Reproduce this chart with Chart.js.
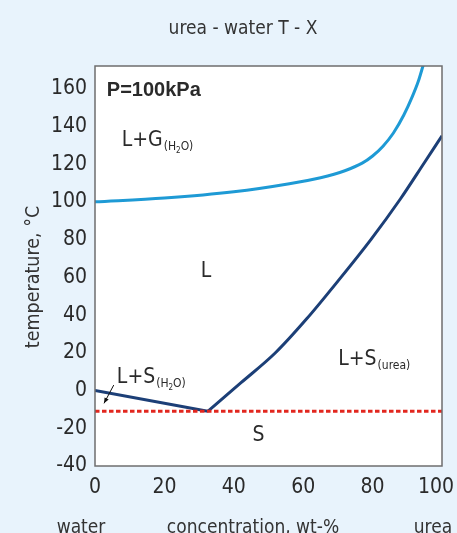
<!DOCTYPE html>
<html>
<head>
<meta charset="utf-8">
<script src="https://cdn.jsdelivr.net/npm/chart.js@4.4.1/dist/chart.umd.min.js"></script>
<style>
  html, body { margin: 0; padding: 0; background: #e8f3fc; }
  #wrap { width: 457px; height: 533px; }
</style>
</head>
<body>
<div id="wrap"><canvas id="grafico-fase"></canvas></div>
<script>
// urea - water phase diagram at 100 kPa
const boilX = [0, 20, 40, 56, 65, 72, 77, 80, 83, 86, 89, 91.5, 93.2, 94.6];
const boilT = [100, 102, 105.3, 109.6, 112.8, 116.5, 120.5, 124.3, 129.5, 136.5, 146, 156, 164, 172.5];
const iceX = [0, 32.5];
const iceT = [0, -11];
const ureaX = [32.5, 42, 52, 61, 70, 79.5, 88, 95, 100];
const ureaT = [-11, 4, 20, 38, 58, 80, 101.5, 121, 135];
const eutecticX = [0, 100];
const eutecticT = [-11, -11];
const xTicks = [0, 20, 40, 60, 80, 100];
const yTicks = [-40, -20, 0, 20, 40, 60, 80, 100, 120, 140, 160];

const narrow = '"Liberation Sans Narrow", "Arial Narrow", "DejaVu Sans Condensed", sans-serif';
const textColor = "#2a2a2a";

// region labels: [main, sub, x, T, size]
const regionLabels = [
  ["L+G", "H2O", 7.7, 129.5, 21],
  ["L", "", 30.5, 60.3, 21],
  ["L+S", "urea", 70.1, 13.5, 21],
  ["L+S", "H2O", 6.3, 3.8, 21],
  ["S", "", 45.4, -27, 21],
];

const toPoints = (xs, ys) => xs.map((x, i) => ({ x: x, y: ys[i] }));

const drawSub = (ctx, sub, x, y) => {
  ctx.font = `12px ${narrow}`;
  if (sub === "H2O") {
    ctx.fillText("(H", x, y);
    x += ctx.measureText("(H").width;
    ctx.font = `8px ${narrow}`;
    ctx.fillText("2", x, y + 3);
    x += ctx.measureText("2").width;
    ctx.font = `12px ${narrow}`;
    ctx.fillText("O)", x, y);
  } else {
    ctx.fillText(`(${sub})`, x, y);
  }
};

const framePlugin = {
  id: "frame",
  beforeDraw(chart) {
    const { ctx, chartArea: a } = chart;
    ctx.save();
    ctx.fillStyle = "#e8f3fc";
    ctx.fillRect(0, 0, chart.width, chart.height);
    ctx.fillStyle = "#ffffff";
    ctx.fillRect(a.left, a.top, a.right - a.left, a.bottom - a.top);
    ctx.restore();
  },
  afterDatasetsDraw(chart) {
    const { ctx, chartArea: a, scales } = chart;
    const sx = scales.x, sy = scales.y;
    ctx.save();
    ctx.strokeStyle = "#6e6e6e";
    ctx.lineWidth = 1.5;
    ctx.strokeRect(a.left, a.top, a.right - a.left, a.bottom - a.top);

    ctx.fillStyle = textColor;
    ctx.textAlign = "left";
    ctx.textBaseline = "alphabetic";
    ctx.font = `bold 20px "Liberation Sans", Arial, sans-serif`;
    ctx.fillText("P=100kPa", sx.getPixelForValue(3.4), sy.getPixelForValue(156));

    regionLabels.forEach(([main, sub, x, t, size]) => {
      const px = sx.getPixelForValue(x);
      const py = sy.getPixelForValue(t);
      ctx.font = `${size}px ${narrow}`;
      ctx.fillText(main, px, py);
      if (sub) drawSub(ctx, sub, px + ctx.measureText(main).width + 1, py + 4);
    });

    // arrow to the small L+S(H2O) region
    const x0 = sx.getPixelForValue(5.4), y0 = sy.getPixelForValue(2.9);
    const x1 = sx.getPixelForValue(2.6), y1 = sy.getPixelForValue(-6.8);
    const ang = Math.atan2(y1 - y0, x1 - x0);
    ctx.strokeStyle = "#111";
    ctx.lineWidth = 1;
    ctx.beginPath();
    ctx.moveTo(x0, y0);
    ctx.lineTo(x1, y1);
    ctx.stroke();
    ctx.fillStyle = "#111";
    ctx.beginPath();
    ctx.moveTo(x1, y1);
    ctx.lineTo(x1 - 6 * Math.cos(ang - 0.4), y1 - 6 * Math.sin(ang - 0.4));
    ctx.lineTo(x1 - 6 * Math.cos(ang + 0.4), y1 - 6 * Math.sin(ang + 0.4));
    ctx.closePath();
    ctx.fill();

    // title and axis titles
    ctx.fillStyle = "#333";
    ctx.textAlign = "center";
    ctx.textBaseline = "middle";
    ctx.font = `19px ${narrow}`;
    ctx.fillText("urea - water T - X", 243, 29);

    ctx.textBaseline = "alphabetic";
    ctx.font = `19px ${narrow}`;
    ctx.fillText("water", 81, 533);
    ctx.fillText("concentration, wt-%", 253, 533);
    ctx.fillText("urea", 433, 533);

    ctx.translate(34, 277);
    ctx.rotate(-Math.PI / 2);
    ctx.textBaseline = "middle";
    ctx.font = `19.5px ${narrow}`;
    ctx.fillText("temperature, °C", 0, 0);
    ctx.restore();
  },
};

const lineSet = (label, xs, ys, color, extra) => Object.assign({
  label: label,
  data: toPoints(xs, ys),
  showLine: true,
  borderColor: color,
  backgroundColor: color,
  borderWidth: 3,
  pointRadius: 0,
  fill: false,
}, extra || {});

const chart = new Chart(document.getElementById("grafico-fase").getContext("2d"), {
  type: "scatter",
  data: {
    datasets: [
      lineSet("eutectic", eutecticX, eutecticT, "#e2271f", { borderDash: [4.5, 2.5] }),
      lineSet("boiling", boilX, boilT, "#1e9ad5", { cubicInterpolationMode: "monotone" }),
      lineSet("ice", iceX, iceT, "#1c3f77"),
      lineSet("urea", ureaX, ureaT, "#1c3f77", { cubicInterpolationMode: "monotone" }),
    ],
  },
  options: {
    responsive: true,
    maintainAspectRatio: false,
    animation: false,
    devicePixelRatio: 1,
    layout: { padding: { top: 66, right: 15, left: 0, bottom: 0 } },
    plugins: {
      legend: { display: false },
      tooltip: { enabled: false },
    },
    scales: {
      x: {
        type: "linear",
        min: 0,
        max: 100,
        afterFit: (s) => { s.height = 67; s.paddingLeft = 0; s.paddingRight = 0; },
        afterBuildTicks: (s) => { s.ticks = xTicks.map((v) => ({ value: v })); },
        grid: { display: false, drawTicks: false },
        border: { display: false },
        ticks: {
          padding: 9,
          color: textColor,
          font: { family: narrow, size: 21 },
          maxRotation: 0,
          // keep the last label inside the picture like the original
          callback: (v) => (v === 100 ? "100\u2007" : String(v)),
        },
      },
      y: {
        type: "linear",
        min: -40,
        max: 172,
        afterFit: (s) => { s.width = 95; s.paddingTop = 0; s.paddingBottom = 0; },
        afterBuildTicks: (s) => { s.ticks = yTicks.map((v) => ({ value: v })); },
        grid: { display: false, drawTicks: false },
        border: { display: false },
        ticks: {
          padding: 8,
          color: textColor,
          font: { family: narrow, size: 21 },
        },
      },
    },
  },
  plugins: [framePlugin],
});
</script>
</body>
</html>
